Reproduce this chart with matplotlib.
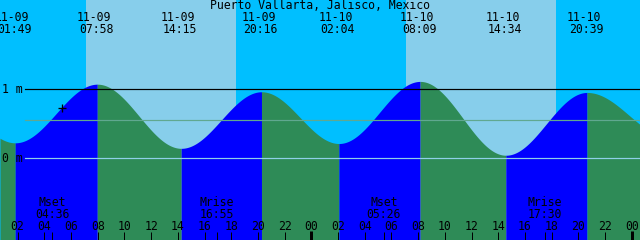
import numpy as np
import matplotlib
matplotlib.use("Agg")
import matplotlib.pyplot as plt

# ---------------- data ----------------
station = "Puerto Vallarta, Jalisco, Mexico"
first_date = "11-09"

tide_dates = ["11-09", "11-09", "11-09", "11-09", "11-10", "11-10", "11-10", "11-10"]
tide_clock = ["01:49", "07:58", "14:15", "20:16", "02:04", "08:09", "14:34", "20:39"]
tide_heights = [0.22, 1.07, 0.14, 0.96, 0.21, 1.11, 0.04, 0.95]   # m
# extremes just outside the visible window (hours from 11-09 00:00, m)
prev_extreme = (-4.4, 1.05)
next_extreme = (51.0, 0.28)

moon_names = ["Mset", "Mrise", "Mset", "Mrise"]
moon_dates = ["11-09", "11-09", "11-10", "11-10"]
moon_clock = ["04:36", "16:55", "05:26", "17:30"]

sunrise_dates = ["11-09", "11-10"]
sunrise_clock = ["07:07", "07:05"]
sunset_clock = ["18:22", "18:20"]

mean_level = 0.55          # m
level_labels = ["1 m", "0 m"]
level_values = [1.0, 0.0]

now_clock = ("11-09", "05:21")
now_height = 0.73

hour_ticks = list(range(2, 49, 2))
hour_labels = ["%02d" % (h % 24) for h in hour_ticks]

t_start = 0.68                 # hours, left edge
t_span = 640 / 13.35           # hours shown

# ---------------- helpers ----------------
def hours(date, clock):
    day = int(date.split("-")[1]) - int(first_date.split("-")[1])
    hh, mm = clock.split(":")
    return day * 24 + int(hh) + int(mm) / 60.0

tide_hours = [hours(d, c) for d, c in zip(tide_dates, tide_clock)]
moon_hours = [hours(d, c) for d, c in zip(moon_dates, moon_clock)]
sunrise_h = [hours(d, c) for d, c in zip(sunrise_dates, sunrise_clock)]
sunset_h = [hours(d, c) for d, c in zip(sunrise_dates, sunset_clock)]

ext_t = np.array([prev_extreme[0]] + tide_hours + [next_extreme[0]])
ext_h = np.array([prev_extreme[1]] + tide_heights + [next_extreme[1]])

x0, x1 = t_start, t_start + t_span
y_bot, y_top = -82 / 69.0, 158 / 69.0

W, H = 640, 240
PX = 72.0 / 100          # one pixel in points
HPP = t_span / W         # hours per pixel

NIGHT = "#00BFFF"
DAY = "#87CEEB"
RISE = "#0000FF"
FALL = "#2E8B57"

plt.rcParams["font.family"] = ["DejaVu Sans Mono", "DejaVu Sans"]
FS = 8.3

fig = plt.figure(figsize=(6.4, 2.4), dpi=100)
ax = fig.add_axes([0, 0, 1, 1])
ax.set_xlim(x0, x1)
ax.set_ylim(y_bot, y_top)
ax.set_facecolor(NIGHT)
for s in ax.spines.values():
    s.set_visible(False)
ax.set_yticks([])

# sky
for sr, ss in zip(sunrise_h, sunset_h):
    ax.axvspan(sr, ss, color=DAY, lw=0, zorder=0)

# water
for i in range(len(ext_t) - 1):
    a, b = ext_t[i], ext_t[i + 1]
    lo, hi = max(a, x0), min(b, x1)
    if hi <= lo:
        continue
    ts = np.linspace(lo, hi, 300)
    frac = (ts - a) / (b - a)
    hs = ext_h[i] + (ext_h[i + 1] - ext_h[i]) * (1 - np.cos(np.pi * frac)) / 2
    col = RISE if ext_h[i + 1] > ext_h[i] else FALL
    ax.fill_between(ts, y_bot, hs, color=col, lw=0, zorder=1, antialiased=True)

# level lines
ax.axhline(1.0, xmin=25 / W, color="black", lw=PX * 1.2, zorder=2)
ax.axhline(mean_level, xmin=25 / W, color="#60A890", lw=PX * 1.2, zorder=2)
ax.axhline(0.0, xmin=25 / W, color="#8FD0E8", lw=PX * 1.2, zorder=2)

tr = ax.get_xaxis_transform()

def yax(ypix):
    return 1 - ypix / H

# level labels
for lab, v, yb in zip(level_labels, level_values, [93.3, 162]):
    ax.text(2 / W, yax(yb), lab, transform=ax.transAxes, ha="left",
            va="baseline", fontsize=FS, color="black", zorder=3)

# title
fig.text(0.5, yax(9), station, ha="center", va="baseline", fontsize=FS,
         color="black")

# tide event labels
for t, d, c in zip(tide_hours, tide_dates, tide_clock):
    ax.text(t - 3 * HPP, yax(21), d, transform=tr, ha="center", va="baseline",
            fontsize=FS, color="black", zorder=3)
    ax.text(t - 1 * HPP, yax(33.3), c, transform=tr, ha="center", va="baseline",
            fontsize=FS, color="black", zorder=3)

# moon labels
for t, n, c in zip(moon_hours, moon_names, moon_clock):
    ax.text(t, yax(206), n, transform=tr, ha="center", va="baseline",
            fontsize=FS, color="black", zorder=3)
    ax.text(t, yax(217.7), c, transform=tr, ha="center", va="baseline",
            fontsize=FS, color="black", zorder=3)

# current time marker
ax.plot([hours(*now_clock)], [now_height], marker="+", color="black",
        ms=8 * PX, mew=1.3 * PX, zorder=4)

# hour ticks
ax.set_xticks(hour_ticks, labels=hour_labels)
ax.tick_params(axis="x", which="major", direction="in", length=8 * PX,
               width=PX, color="black", labelsize=FS, pad=-10.5 * PX,
               labelcolor="black")
for lab in ax.get_xticklabels():
    lab.set_va("baseline")
for tk, h in zip(ax.xaxis.get_major_ticks(), hour_ticks):
    tk.tick1line.set_zorder(5)
    if h % 24 == 0:
        tk.tick1line.set_markeredgewidth(3 * PX)
        tk.tick1line.set_markersize(9.5 * PX)

# moon ticks
ax.set_xticks(moon_hours, minor=True)
ax.tick_params(axis="x", which="minor", direction="in", length=8 * PX,
               width=PX, color="black")

fig.savefig("out.png", dpi=100)
